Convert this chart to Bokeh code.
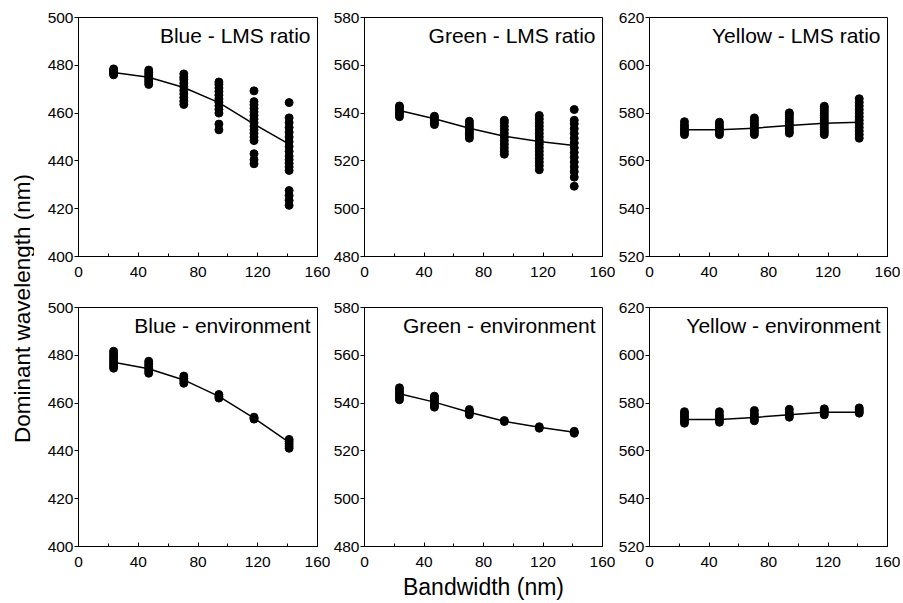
import math
from bokeh.plotting import figure
from bokeh.layouts import row, column
from bokeh.models import Range1d, FixedTicker, Label
from bokeh.embed import file_html
from bokeh.resources import INLINE

# ---------------- data ----------------
bandwidths = [23.5, 47, 70.5, 94, 117.5, 141]
x_ticks = [0, 40, 80, 120, 160]
x_minor = [0, 20, 40, 60, 80, 100, 120, 140, 160]

blue_ticks = [400, 420, 440, 460, 480, 500]
green_ticks = [480, 500, 520, 540, 560, 580]
yellow_ticks = [520, 540, 560, 580, 600, 620]

blue_lms_pts = [
    [476.0, 476.5, 477.0, 477.5, 478.0, 478.5],
    [472.0, 473.0, 474.0, 475.0, 476.0, 477.0, 478.0],
    [463.6, 465.0, 466.5, 468.0, 469.5, 471.0, 472.5, 474.0, 475.0, 476.4],
    [453.0, 455.4, 460.0, 461.5, 463.0, 464.5, 466.0, 467.5, 469.0, 470.5, 472.0, 473.0],
    [438.8, 440.5, 443.0, 448.5, 450.0, 451.5, 453.0, 454.5, 456.0, 457.5, 459.0, 460.5, 462.0, 463.5, 464.8, 469.3],
    [421.4, 423.5, 425.5, 427.6, 436.0, 437.5, 439.0, 440.5, 442.0, 444.0, 446.0, 448.0, 450.0, 452.0, 454.0, 456.0, 458.0, 464.4],
]
blue_lms_mean = [477.0, 475.0, 470.7, 464.4, 455.4, 447.0]

green_lms_pts = [
    [538.5, 539.5, 540.5, 541.5, 542.5, 543.0],
    [535.2, 536.0, 537.0, 538.0, 538.7],
    [529.5, 530.5, 531.5, 532.5, 533.5, 534.5, 535.5, 536.6],
    [522.8, 524.0, 525.5, 527.0, 528.5, 530.0, 531.5, 533.0, 534.5, 536.0, 537.0],
    [516.3, 518.0, 519.5, 521.0, 522.5, 524.0, 525.5, 527.0, 528.5, 530.0, 531.5, 533.0, 534.5, 536.0, 537.5, 539.0],
    [509.4, 513.2, 515.5, 517.5, 519.5, 521.5, 523.5, 525.5, 527.5, 529.5, 531.5, 533.5, 535.5, 537.0, 541.5],
]
green_lms_mean = [541.1, 537.6, 533.7, 530.3, 528.1, 526.4]

yellow_lms_pts = [
    [571.0, 572.0, 573.0, 574.0, 575.0, 576.4],
    [571.0, 572.0, 573.0, 574.0, 575.0, 576.2],
    [571.0, 572.0, 573.0, 574.0, 575.0, 576.0, 577.0, 578.0],
    [571.6, 572.5, 573.5, 574.5, 575.5, 576.5, 577.5, 578.5, 579.5, 580.1],
    [571.0, 572.0, 573.0, 574.0, 575.0, 576.0, 577.0, 578.0, 579.0, 580.0, 581.0, 582.0, 582.9],
    [569.5, 571.0, 572.5, 574.0, 575.5, 577.0, 578.5, 580.0, 581.5, 583.0, 584.5, 586.0],
]
yellow_lms_mean = [573.0, 573.0, 573.7, 574.8, 575.8, 576.2]

blue_env_pts = [
    [474.6, 475.5, 476.5, 477.5, 478.5, 479.5, 480.5, 481.7],
    [472.5, 473.5, 474.5, 475.5, 476.5, 477.5],
    [468.3, 469.3, 470.3, 471.3],
    [462.1, 462.8, 463.6],
    [453.3, 453.7, 454.1],
    [441.1, 442.0, 443.0, 444.0, 444.8],
]
blue_env_mean = [477.1, 474.4, 469.7, 462.8, 453.7, 443.6]

green_env_pts = [
    [541.4, 542.5, 543.5, 544.5, 545.5, 546.4],
    [538.3, 539.3, 540.3, 541.3, 542.3, 542.9],
    [535.1, 536.0, 536.5, 537.3],
    [532.3, 532.7],
    [529.5, 530.1],
    [527.4, 527.8, 528.2],
]
green_env_mean = [543.9, 540.4, 536.2, 532.4, 529.9, 527.8]

yellow_env_pts = [
    [571.6, 572.5, 573.5, 574.5, 575.5, 576.4],
    [572.0, 573.0, 574.0, 575.0, 576.4],
    [572.6, 573.5, 574.5, 575.5, 576.9],
    [574.1, 575.0, 576.0, 577.4],
    [575.1, 576.0, 576.8, 577.6],
    [575.8, 576.5, 577.2, 578.0],
]
yellow_env_mean = [573.1, 573.1, 574.0, 575.1, 576.2, 576.2]

titles = ["Blue - LMS ratio", "Green - LMS ratio", "Yellow - LMS ratio",
          "Blue - environment", "Green - environment", "Yellow - environment"]
y_axis_title = "Dominant wavelength (nm)"
x_axis_title = "Bandwidth (nm)"

FONT = "Liberation Sans"


def make_panel(title, yticks, pts, means, fw, left, right, top, bottom, xlabel=None):
    p = figure(frame_width=fw, frame_height=239,
               x_range=Range1d(x_ticks[0], x_ticks[-1]),
               y_range=Range1d(yticks[0], yticks[-1]),
               output_backend="svg", toolbar_location=None,
               min_border_left=left, min_border_right=right,
               min_border_top=top, min_border_bottom=bottom)
    p.grid.visible = False
    p.outline_line_color = "black"
    p.outline_line_alpha = 1.0
    p.outline_line_width = 1
    p.background_fill_color = "white"
    p.border_fill_color = "white"

    xa = p.xaxis[0]
    xa.ticker = FixedTicker(ticks=x_ticks, minor_ticks=x_minor)
    xa.major_tick_in = 4
    xa.major_tick_out = 0
    xa.minor_tick_in = 3
    xa.minor_tick_out = 0
    xa.major_label_standoff = 10
    ya = p.yaxis[0]
    ya.ticker = FixedTicker(ticks=yticks, minor_ticks=[])
    ya.major_tick_in = 0
    ya.major_tick_out = 4
    ya.major_label_standoff = 1
    for ax in (xa, ya):
        ax.axis_line_color = "black"
        ax.major_tick_line_color = "black"
        ax.major_label_text_font = FONT
        ax.major_label_text_font_size = "15.5px"
        ax.major_label_text_color = "black"
    xa.minor_tick_line_color = "black"
    ya.minor_tick_line_color = None
    if xlabel:
        xa.axis_label = xlabel
        xa.axis_label_text_font = FONT
        xa.axis_label_text_font_size = "23px"
        xa.axis_label_text_font_style = "normal"
        xa.axis_label_text_color = "black"
        xa.axis_label_standoff = 4

    xs, ys = [], []
    for bw, col in zip(bandwidths, pts):
        for v in col:
            xs.append(bw)
            ys.append(v)
    p.line(bandwidths, means, line_color="black", line_width=1.5)
    p.scatter(xs, ys, size=8, fill_color="black", line_color="black")

    p.add_layout(Label(x=x_ticks[-1], y=yticks[-1], x_offset=-7, y_offset=-18,
                       text=title, text_align="right", text_baseline="alphabetic",
                       text_font=FONT, text_font_size="21px", text_color="black"))
    return p


# column borders (left, right) and frame widths
cols = [(44, 13, 239), (34, 13, 238), (34, 13, 238)]
top_specs = [(blue_ticks, blue_lms_pts, blue_lms_mean),
             (green_ticks, green_lms_pts, green_lms_mean),
             (yellow_ticks, yellow_lms_pts, yellow_lms_mean)]
bot_specs = [(blue_ticks, blue_env_pts, blue_env_mean),
             (green_ticks, green_env_pts, green_env_mean),
             (yellow_ticks, yellow_env_pts, yellow_env_mean)]

top_figs = []
for i, (spec, c) in enumerate(zip(top_specs, cols)):
    top_figs.append(make_panel(titles[i], spec[0], spec[1], spec[2], c[2], c[0], c[1], 17, 42))
bot_figs = []
for i, (spec, c) in enumerate(zip(bot_specs, cols)):
    bot_figs.append(make_panel(titles[3 + i], spec[0], spec[1], spec[2], c[2], c[0], c[1], 9, 55,
                               xlabel=x_axis_title if i == 1 else None))

# y-axis title strip
LW, LH = 34, 601
lab = figure(frame_width=LW, frame_height=LH, x_range=Range1d(0, LW), y_range=Range1d(0, LH),
             output_backend="svg", toolbar_location=None,
             min_border_left=0, min_border_right=0, min_border_top=0, min_border_bottom=0,
             x_axis_location=None, y_axis_location=None)
lab.grid.visible = False
lab.outline_line_color = None
lab.add_layout(Label(x=22, y=LH - 308, text=y_axis_title, angle=math.pi / 2,
                     text_align="center", text_baseline="middle",
                     text_font=FONT, text_font_size="22.5px", text_color="black"))

grid = column(row(*top_figs, spacing=0), row(*bot_figs, spacing=0), spacing=0)
layout = row(lab, grid, spacing=0)

open("out.html", "w").write(file_html(layout, INLINE))
